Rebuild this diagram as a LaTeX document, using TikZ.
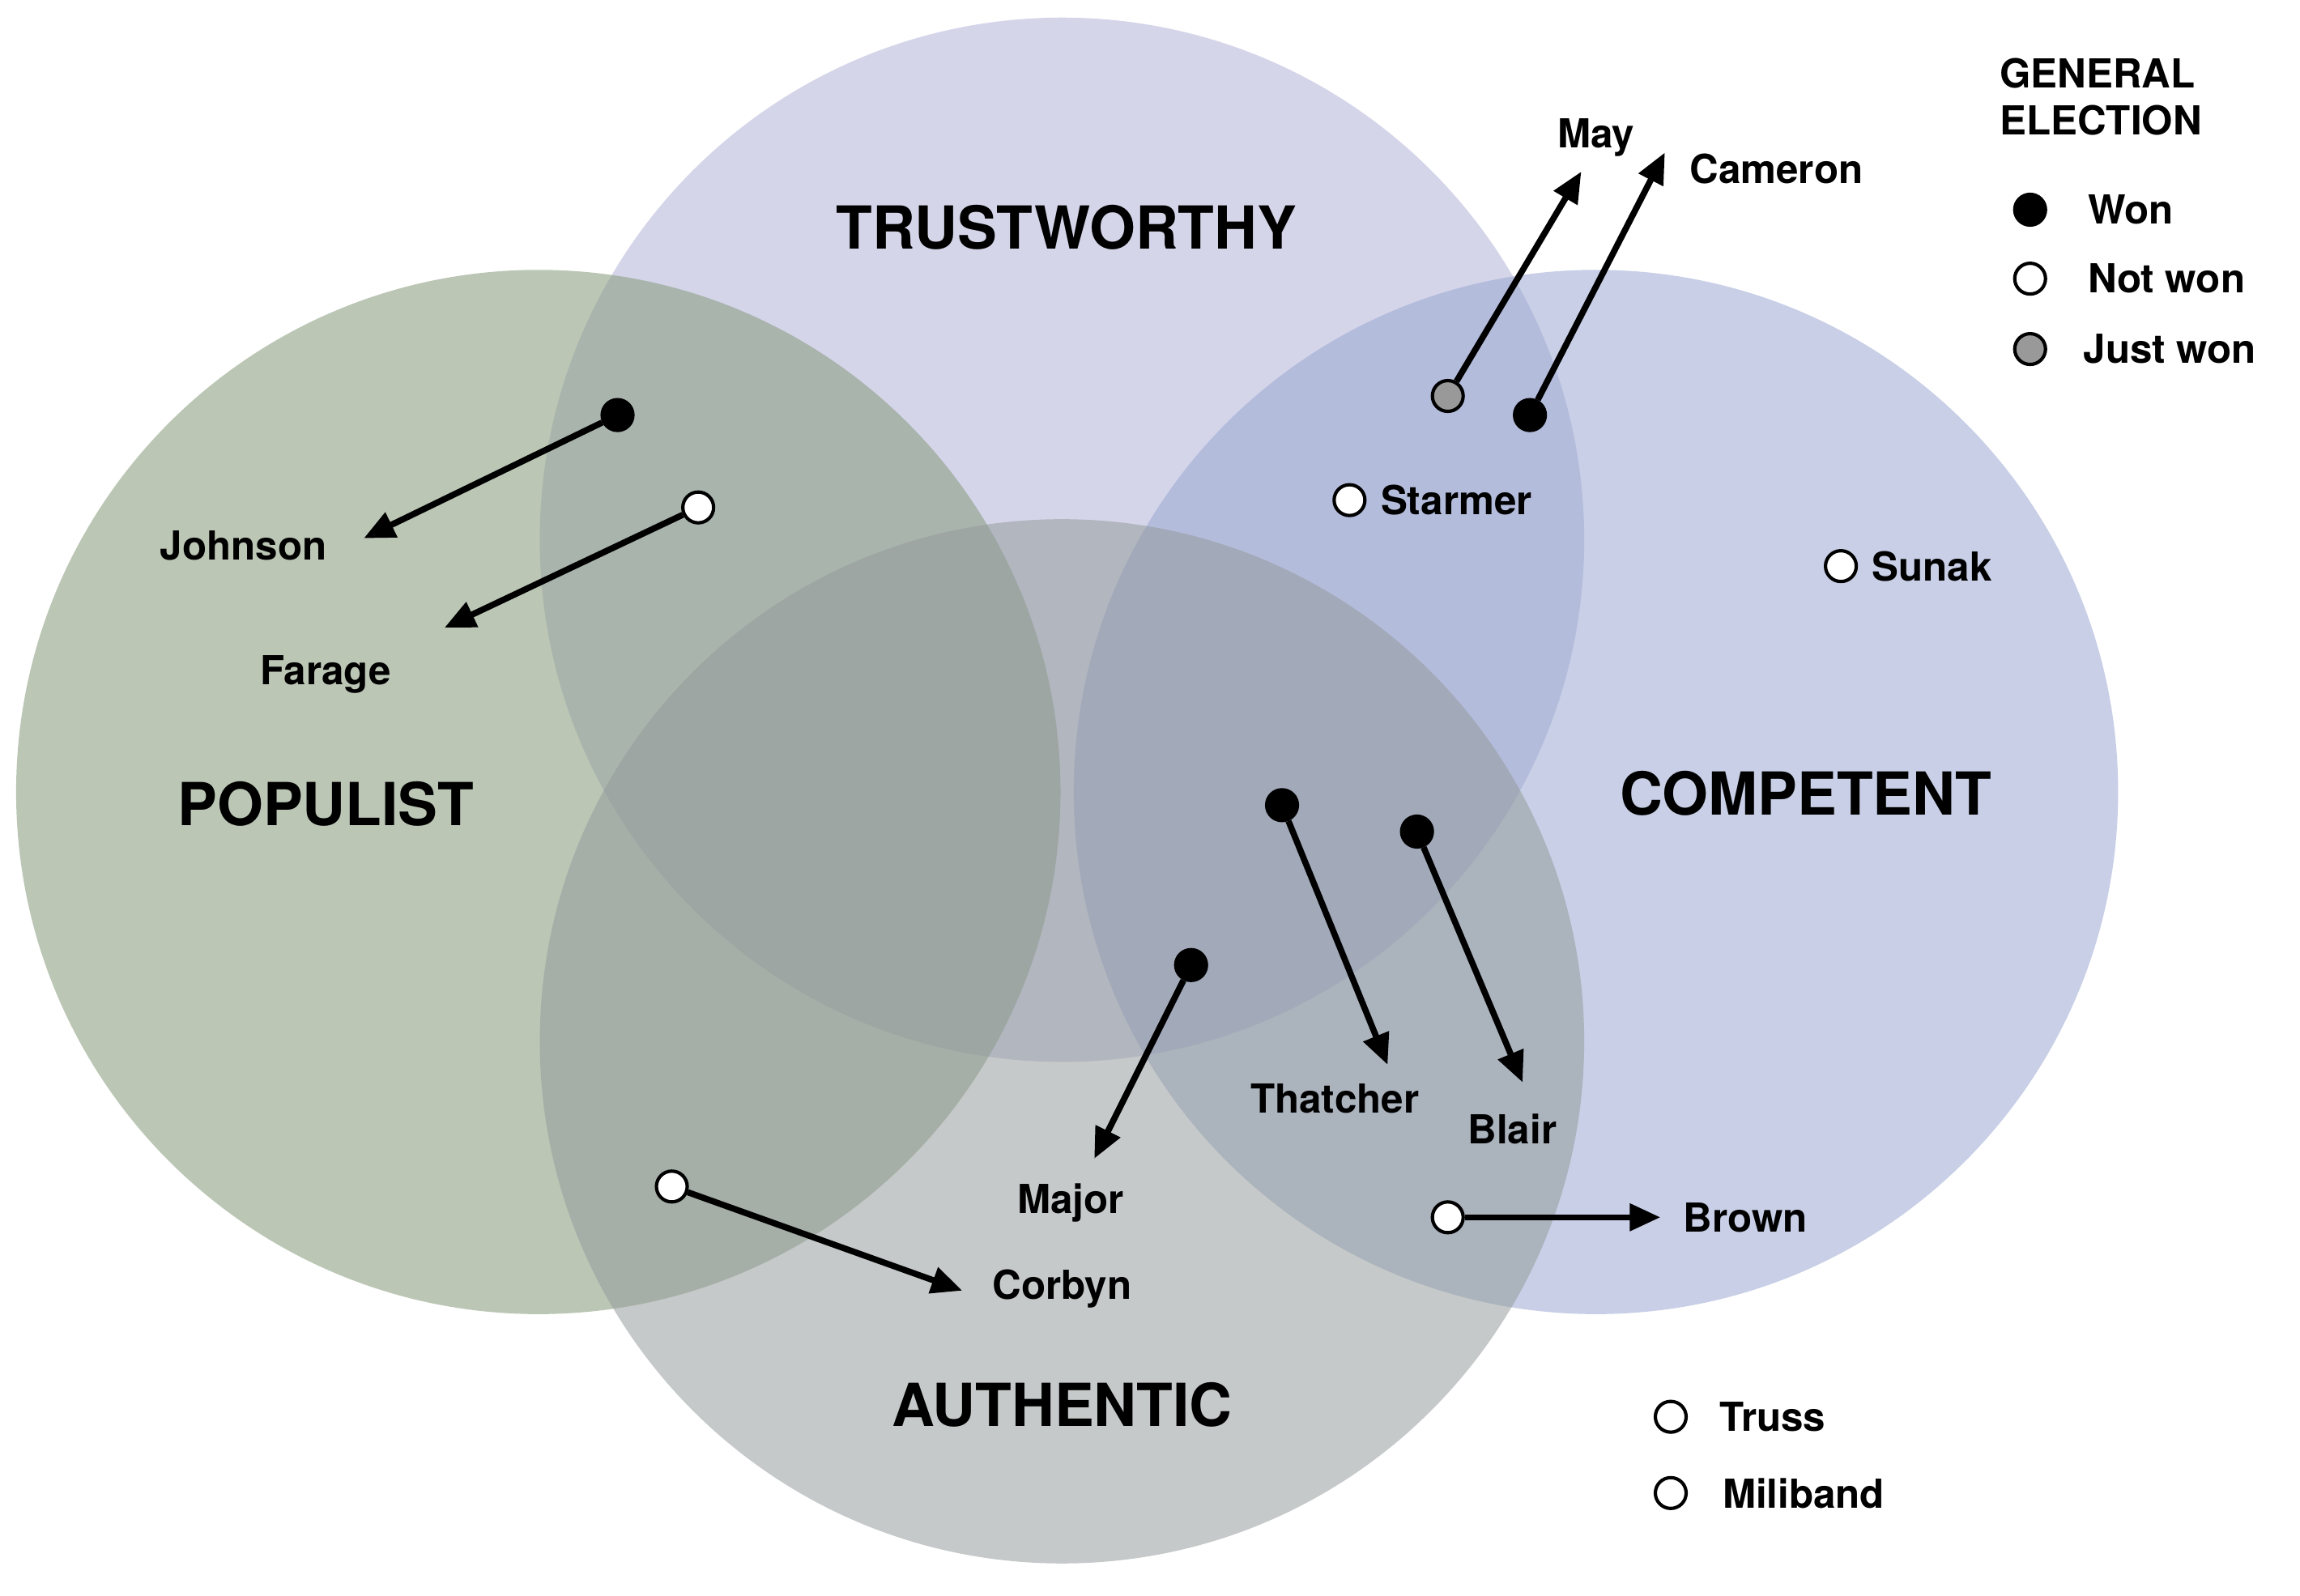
\documentclass[tikz,border=0pt]{standalone}
\usepackage{fontspec}
\setmainfont{TeX Gyre Heros}
\usetikzlibrary{arrows.meta}
\definecolor{ctrust}{HTML}{B3B3D8}
\definecolor{cpop}{HTML}{8A9C80}
\definecolor{ccomp}{HTML}{9AA8D2}
\definecolor{cauth}{HTML}{959C9C}
\begin{document}
\begin{tikzpicture}[x=0.02cm,y=-0.02cm,
  big/.style={font=\fontsize{23}{26}\selectfont\bfseries},
  lab/.style={font=\fontsize{15.5}{18}\selectfont\bfseries},
  dot/.style={circle,draw=black,line width=1.3pt,minimum size=0.42cm,inner sep=0pt},
  won/.style={dot,fill=black},
  notwon/.style={dot,fill=white},
  justwon/.style={dot,fill=gray!80},
  arr/.style={line width=2.4pt,-{Triangle[length=0.42cm,width=0.36cm]}}]
\useasboundingbox (0,0) rectangle (1568,1088);
\fill[ctrust,fill opacity=0.55] (724,368) circle [radius=356];
\fill[cpop,fill opacity=0.58] (367,540) circle [radius=356];
\fill[ccomp,fill opacity=0.55] (1088,540) circle [radius=356];
\fill[cauth,fill opacity=0.55] (724,710) circle [radius=356];
\node[big] (trust) at (727,155) {TRUSTWORTHY};
\node[big] (pop) at (222,548) {POPULIST};
\node[big] (comp) at (1231,541) {COMPETENT};
\node[big] (auth) at (724,958) {AUTHENTIC};
% points
\node[won] (djohnson) at (421,283) {};
\node[notwon] (dfarage) at (476,346) {};
\node[justwon] (dmay) at (987,270) {};
\node[won] (dcameron) at (1043,283) {};
\node[notwon] (dstarmer) at (920,341) {};
\node[notwon] (dsunak) at (1255,386) {};
\node[won] (dthatcher) at (874,549) {};
\node[won] (dblair) at (966,567) {};
\node[won] (dmajor) at (812,658) {};
\node[notwon] (dcorbyn) at (458,809) {};
\node[notwon] (dbrown) at (987,830) {};
\node[notwon] (dtruss) at (1139,966) {};
\node[notwon] (dmiliband) at (1139,1018) {};
\coordinate (ejohnson) at (248,367);
\coordinate (efarage) at (303,428);
\coordinate (emay) at (1078,117);
\coordinate (ecameron) at (1135,104);
\coordinate (ethatcher) at (946,726);
\coordinate (eblair) at (1038,738);
\coordinate (emajor) at (746,790);
\coordinate (ecorbyn) at (656,880);
\coordinate (ebrown) at (1132,830);
\foreach \n in {johnson,farage,may,cameron,thatcher,blair,major,corbyn,brown}
  \draw[arr] (d\n) -- (e\n);
\node[lab] (ljohnson) at (166,372) {Johnson};
\node[lab] (lfarage) at (222,460) {Farage};
\node[lab] (lmay) at (1088,94) {May};
\node[lab] (lcameron) at (1211,115) {Cameron};
\node[lab,anchor=west,inner sep=0pt] (lstarmer) at (941,341) {Starmer};
\node[lab,anchor=west,inner sep=0pt] (lsunak) at (1276,386) {Sunak};
\node[lab] (lthatcher) at (910,749) {Thatcher};
\node[lab] (lblair) at (1031,770) {Blair};
\node[lab] (lmajor) at (730,820) {Major};
\node[lab] (lcorbyn) at (724,879) {Corbyn};
\node[lab] (lbrown) at (1190,830) {Brown};
\node[lab,anchor=west,inner sep=0pt] (ltruss) at (1172,966) {Truss};
\node[lab,anchor=west,inner sep=0pt] (lmiliband) at (1174,1018) {Miliband};
% legend
\node[lab,anchor=west,inner sep=0pt,align=left] (ltitle) at (1363,66) {GENERAL\\ELECTION};
\node[won] (gwon) at (1384,143) {};
\node[notwon] (gnot) at (1384,190) {};
\node[justwon] (gjust) at (1384,238) {};
\node[lab,anchor=west,inner sep=0pt] (lwon) at (1423,143) {Won};
\node[lab,anchor=west,inner sep=0pt] (lnot) at (1423,190) {Not won};
\node[lab,anchor=west,inner sep=0pt] (ljust) at (1420,238) {Just won};
\end{tikzpicture}
\end{document}
